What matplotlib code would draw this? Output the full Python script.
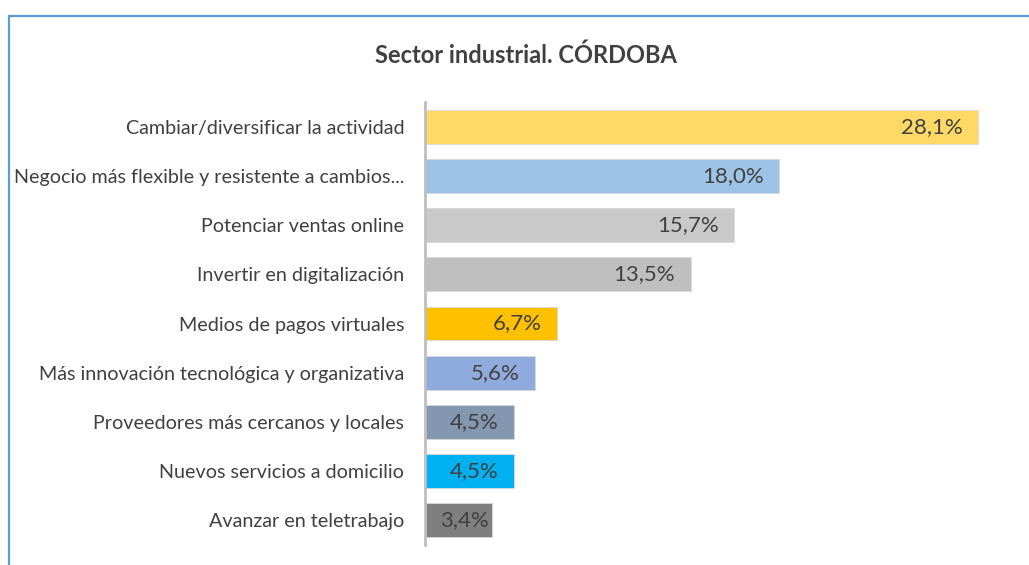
import matplotlib
matplotlib.use("Agg")
import matplotlib.pyplot as plt
from matplotlib.patches import Rectangle

categories = [
    "Cambiar/diversificar la actividad",
    "Negocio más flexible y resistente a cambios...",
    "Potenciar ventas online",
    "Invertir en digitalización",
    "Medios de pagos virtuales",
    "Más innovación tecnológica y organizativa",
    "Proveedores más cercanos y locales",
    "Nuevos servicios a domicilio",
    "Avanzar en teletrabajo",
]
values = [28.1, 18.0, 15.7, 13.5, 6.7, 5.6, 4.5, 4.5, 3.4]
value_labels = ["28,1%", "18,0%", "15,7%", "13,5%", "6,7%", "5,6%", "4,5%", "4,5%", "3,4%"]
colors = ["#FFD966", "#9DC3E6", "#C9C9C9", "#BFBFBF", "#FFC000",
          "#8FAADC", "#8497B0", "#00B0F0", "#7F7F7F"]
title = "Sector industrial. CÓRDOBA"

plt.rcParams['font.family'] = ['Lato', 'DejaVu Sans']

W, H = 1029, 565
fig = plt.figure(figsize=(W / 100, H / 100), dpi=100)
fig.patch.set_facecolor("white")

# outer frame (only top and left visible)
fig.patches.append(Rectangle((9 / W, -0.1), 1.2, (1 - 16 / H) + 0.1,
                             transform=fig.transFigure, fill=False,
                             edgecolor="#5B9BD5", linewidth=1.6))

ax = fig.add_axes([425 / W, 1 - 545 / H, 590 / W, 443 / H])
n = len(categories)
ypos = list(range(n))
ax.barh(ypos, values, height=0.69, color=colors, edgecolor="#D9D9D9", linewidth=0.6)
ax.set_ylim(n - 0.5, -0.5)
ax.set_xlim(0, 30)
ax.set_yticks(ypos)
ax.set_yticklabels(categories, fontsize=14.2, color="#404040")
ax.tick_params(axis="y", length=0, pad=15)
ax.set_xticks([])
for s in ["top", "right", "bottom"]:
    ax.spines[s].set_visible(False)
ax.spines["left"].set_color("#BFBFBF")
ax.spines["left"].set_linewidth(2)

for y, v, lab in zip(ypos, values, value_labels):
    if v < 4:
        ax.annotate(lab, (v / 2, y), xytext=(4, 0), textcoords="offset points",
                    ha="center", va="center", fontsize=16, color="#404040")
    else:
        ax.annotate(lab, (v, y), xytext=(-11, 0), textcoords="offset points",
                    ha="right", va="center", fontsize=16, color="#404040")

fig.text(526 / W, 1 - 55 / H, title, ha="center", va="center",
         fontsize=17, fontweight="bold", color="#404040")

fig.savefig("out.png", dpi=100)
